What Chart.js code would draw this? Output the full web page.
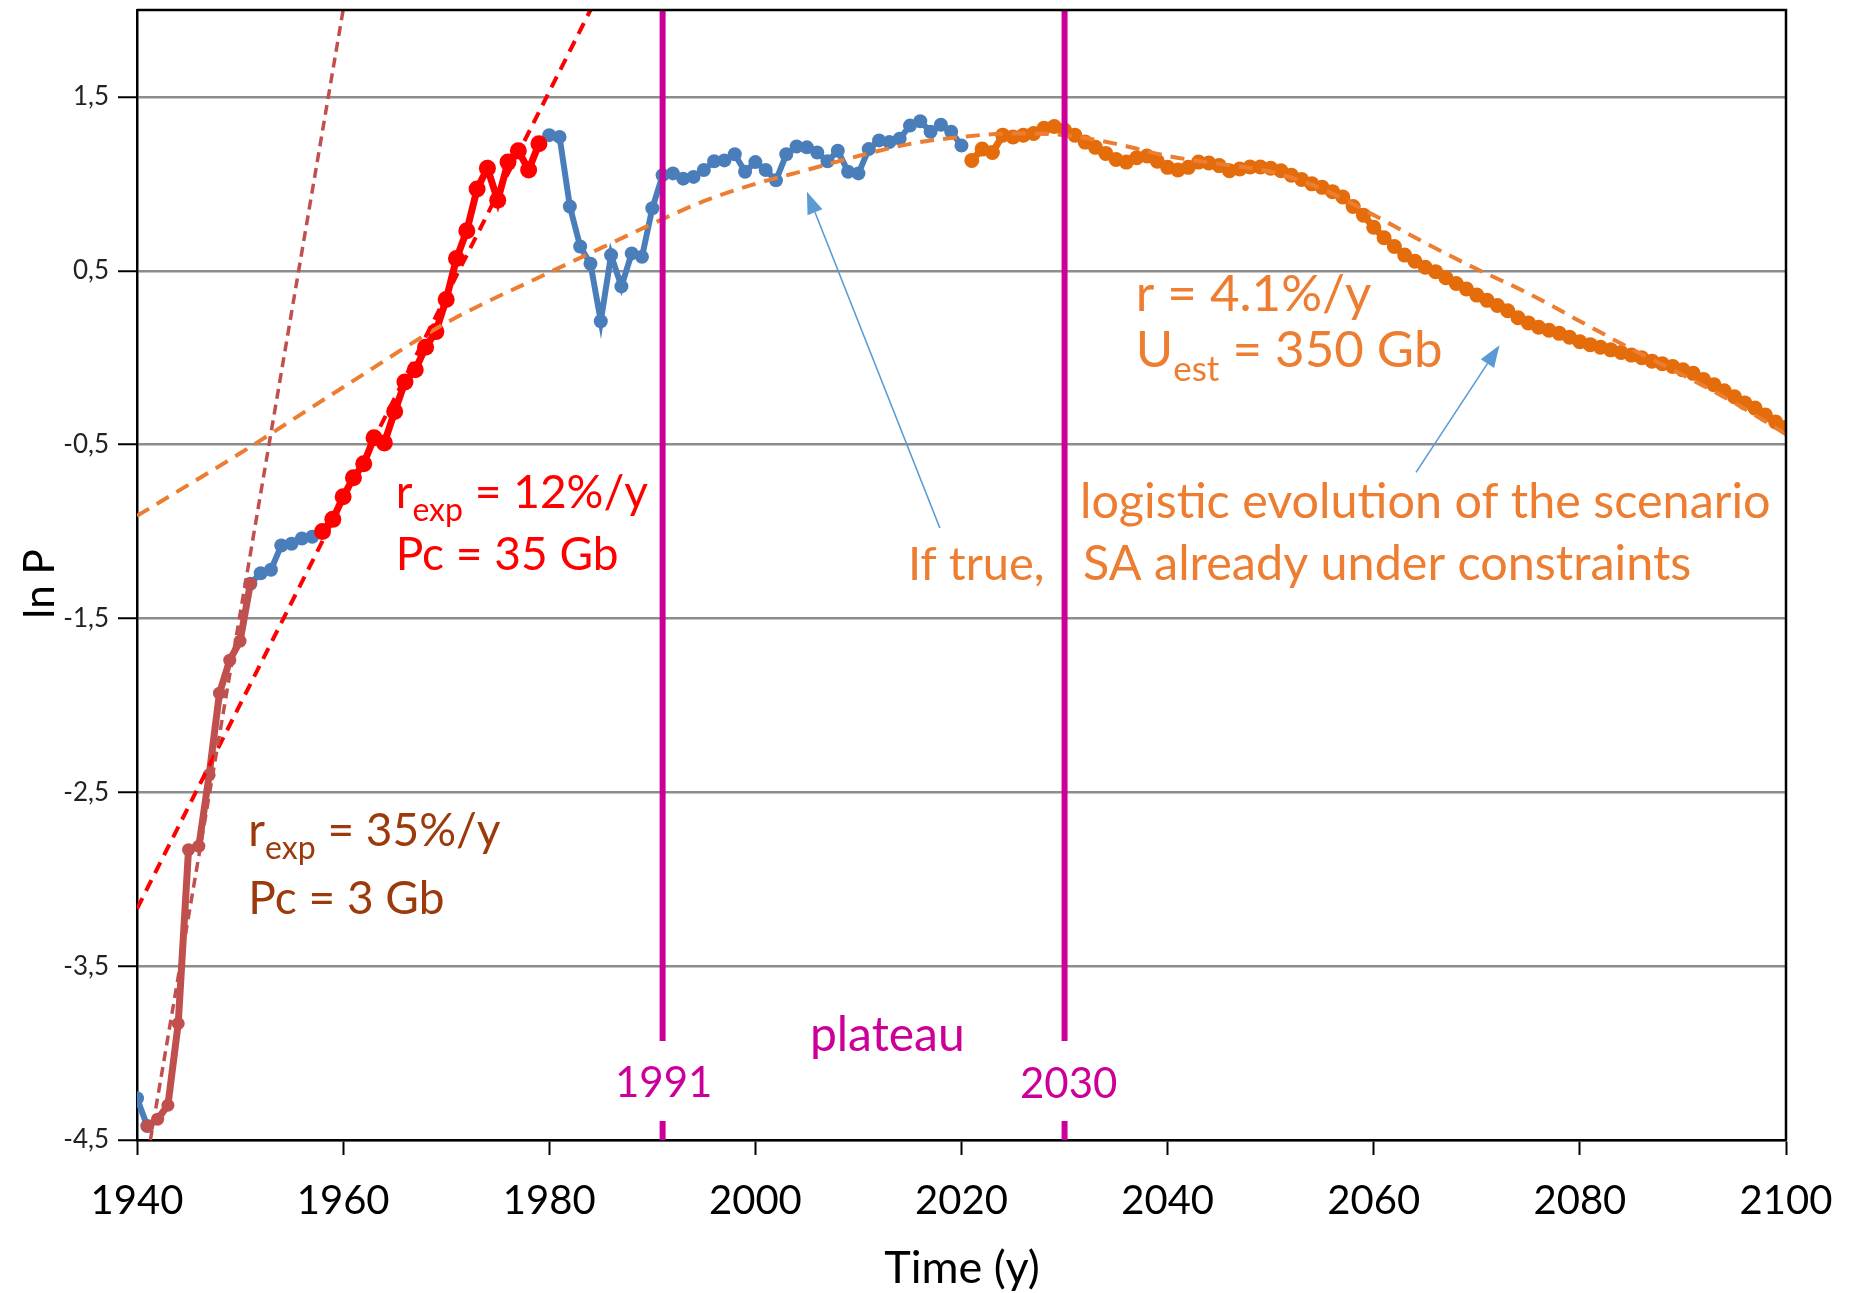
<!DOCTYPE html>
<html>
<head>
<meta charset="utf-8">
<script src="https://cdn.jsdelivr.net/npm/chart.js@4.4.0/dist/chart.umd.min.js"></script>
<style>
  html, body { margin: 0; padding: 0; background: #fff; }
</style>
</head>
<body>
<canvas id="chart" width="1850" height="1293"></canvas>
<script>
// tick labels
var yearTicks = [1940, 1960, 1980, 2000, 2020, 2040, 2060, 2080, 2100];
var lnPTicks = [-4.5, -3.5, -2.5, -1.5, -0.5, 0.5, 1.5];

// historical ln P (blue), one value a year from 1940; null where the fitted parts cover it
var histStart = 1940;
var histVals = [
  -4.26, -4.42,
  null, null, null, null, null, null, null, null, null,
  -1.30, -1.24, -1.22, -1.08, -1.07, -1.04, -1.03, -1.00,
  null, null, null, null, null, null, null, null, null, null,
  null, null, null, null, null, null, null, null, null, null,
  1.23, 1.28, 1.27, 0.87, 0.64, 0.54, 0.21, 0.59, 0.41, 0.60,
  0.58, 0.86, 1.05, 1.06, 1.03, 1.04, 1.08, 1.13, 1.135, 1.17,
  1.07, 1.125, 1.08, 1.02, 1.17, 1.215, 1.21, 1.18, 1.13, 1.19,
  1.07, 1.06, 1.20, 1.25, 1.24, 1.26, 1.335, 1.36, 1.30, 1.34,
  1.30, 1.22
];

// early phase 1941-1951 (35%/y)
var earlyStart = 1941;
var earlyVals = [-4.42, -4.38, -4.30, -3.83, -2.83, -2.81, -2.40, -1.93, -1.74, -1.63, -1.30];

// growth phase 1958-1979 (12%/y)
var boomStart = 1958;
var boomVals = [
  -1.00, -0.93, -0.80, -0.69, -0.61, -0.46, -0.49, -0.31, -0.14, -0.07,
  0.06, 0.15, 0.335, 0.57, 0.73, 0.97, 1.09, 0.905, 1.125, 1.19,
  1.08, 1.23
];

// scenario 2021-2100
var scenStart = 2021;
var scenVals = [
  1.135, 1.20, 1.18, 1.28, 1.27, 1.28, 1.29, 1.32, 1.33, 1.31,
  1.28, 1.24, 1.21, 1.175, 1.14, 1.125, 1.15, 1.16, 1.13, 1.095,
  1.08, 1.095, 1.125, 1.12, 1.105, 1.075, 1.085, 1.097, 1.097, 1.09,
  1.075, 1.05, 1.025, 1.00, 0.98, 0.955, 0.924, 0.87, 0.82, 0.75,
  0.69, 0.64, 0.59, 0.555, 0.52, 0.495, 0.46, 0.427, 0.395, 0.36,
  0.33, 0.30, 0.27, 0.23, 0.20, 0.175, 0.158, 0.14, 0.118, 0.092,
  0.075, 0.06, 0.045, 0.03, 0.015, 0.00, -0.02, -0.035, -0.05, -0.07,
  -0.09, -0.125, -0.155, -0.19, -0.225, -0.26, -0.29, -0.33, -0.37, -0.40
];

// logistic fit (orange dashed)
var fitYears = [1940, 1950, 1960, 1970, 1980, 1985, 1990,
  1995, 2000, 2005, 2010, 2015, 2020, 2025, 2030, 2035, 2040, 2045, 2050,
  2055, 2060, 2065, 2070, 2075, 2080, 2085, 2090, 2095, 2100];
var fitVals = [-0.91, -0.55, -0.17, 0.20, 0.49, 0.63, 0.77,
  0.90, 1.00, 1.08, 1.16, 1.23, 1.27, 1.29, 1.28, 1.23, 1.16, 1.115, 1.07,
  0.97, 0.82, 0.66, 0.51, 0.37, 0.21, 0.05, -0.10, -0.26, -0.44];

// exponential fits, [year, ln P] end points
var exp35Ends = [[1941.3, -4.5], [1960, 2.0]];
var exp12Ends = [[1940, -3.17], [1984, 2.0]];

// vertical markers
var markYears = [1991, 2030];

function series(start, vals) {
  return vals.map(function (v, i) { return { x: start + i, y: v }; });
}
function pairs(xs, ys) {
  return xs.map(function (x, i) { return { x: x, y: ys[i] }; });
}
function ends(p) {
  return p.map(function (e) { return { x: e[0], y: e[1] }; });
}
function markLine(year) {
  // gap left for the year label
  return [{ x: year, y: 2 }, { x: year, y: -3.93 }, { x: year, y: null },
          { x: year, y: -4.39 }, { x: year, y: -4.5 }];
}

var magenta = '#cc0099';

function rich(ctx, x, y, parts, color) {
  ctx.fillStyle = color;
  ctx.textAlign = 'left';
  ctx.textBaseline = 'alphabetic';
  parts.forEach(function (p) {
    ctx.font = p[1] + 'px Lato';
    ctx.fillText(p[0], x, y + (p[2] || 0));
    x += ctx.measureText(p[0]).width;
  });
}

function arrow(ctx, x1, y1, x2, y2) {
  var a = Math.atan2(y2 - y1, x2 - x1), len = 22, w = 8;
  var bx = x2 - len * Math.cos(a), by = y2 - len * Math.sin(a);
  ctx.strokeStyle = ctx.fillStyle = '#5b9bd5';
  ctx.lineWidth = 1.6;
  ctx.beginPath();
  ctx.moveTo(x1, y1);
  ctx.lineTo(bx, by);
  ctx.stroke();
  ctx.beginPath();
  ctx.moveTo(x2, y2);
  ctx.lineTo(bx + w * Math.sin(a), by - w * Math.cos(a));
  ctx.lineTo(bx - w * Math.sin(a), by + w * Math.cos(a));
  ctx.closePath();
  ctx.fill();
}

var notes = {
  id: 'notes',
  afterDatasetsDraw: function (chart) {
    var ctx = chart.ctx, a = chart.chartArea;
    var X = function (v) { return chart.scales.x.getPixelForValue(v); };
    var Y = function (v) { return chart.scales.y.getPixelForValue(v); };
    ctx.save();

    // top and right frame
    ctx.strokeStyle = '#000';
    ctx.lineWidth = 2.5;
    ctx.beginPath();
    ctx.moveTo(a.left, a.top);
    ctx.lineTo(a.right, a.top);
    ctx.lineTo(a.right, a.bottom);
    ctx.stroke();

    rich(ctx, X(1965.1), Y(-0.865), [['r', 46], ['exp', 32, 13], [' = 12%/y', 46]], '#ff0000');
    rich(ctx, X(1965.1), Y(-1.22), [['Pc = 35 Gb', 46]], '#ff0000');

    rich(ctx, X(1950.8), Y(-2.807), [['r', 46], ['exp', 32, 13], [' = 35%/y', 46]], '#9c3a0c');
    rich(ctx, X(1950.8), Y(-3.198), [['Pc = 3 Gb', 46]], '#9c3a0c');

    var orange = '#ed7d31';
    rich(ctx, X(2036.9), Y(0.267), [['r = 4.1%/y', 51]], orange);
    rich(ctx, X(2036.9), Y(-0.055), [['U', 51], ['est', 35, 14], [' = 350 Gb', 51]], orange);
    rich(ctx, X(2031.5), Y(-0.922), [['logistic evolution of the scenario', 48.5]], orange);
    rich(ctx, X(2014.8), Y(-1.279), [['If true,', 47]], orange);
    rich(ctx, X(2031.8), Y(-1.279), [['SA already under constraints', 48.5]], orange);

    arrow(ctx, X(2017.9), Y(-0.98), X(2005.0), Y(0.954));
    arrow(ctx, X(2064.1), Y(-0.66), X(2072.2), Y(0.072));

    ctx.fillStyle = magenta;
    ctx.textAlign = 'center';
    ctx.font = '48px Lato';
    ctx.fillText('plateau', X(2012.8), Y(-3.99));
    ctx.font = '42px Lato';
    ctx.fillText('1991', X(1991.1), Y(-4.25));
    ctx.fillText('2030', X(2030.4), Y(-4.26));

    // axis titles
    ctx.fillStyle = '#000';
    ctx.font = '45px Lato';
    ctx.fillText('Time (y)', 962, 1283);
    ctx.translate(54, 584);
    ctx.rotate(-Math.PI / 2);
    ctx.font = '42px Lato';
    ctx.fillText('ln P', 0, 0);
    ctx.restore();
  }
};

Chart.defaults.font.family = 'Lato';

new Chart(document.getElementById('chart'), {
  type: 'scatter',
  data: {
    datasets: [
      { data: markLine(markYears[0]), showLine: true, borderColor: magenta, borderWidth: 6,
        pointRadius: 0, spanGaps: false, order: 0 },
      { data: markLine(markYears[1]), showLine: true, borderColor: magenta, borderWidth: 6,
        pointRadius: 0, spanGaps: false, order: 0 },
      { data: ends(exp35Ends), showLine: true, borderColor: '#c0504d', borderWidth: 3.5,
        borderDash: [10, 6], pointRadius: 0, order: 1 },
      { data: ends(exp12Ends), showLine: true, borderColor: '#ff0000', borderWidth: 4,
        borderDash: [12, 8], pointRadius: 0, order: 1 },
      { data: pairs(fitYears, fitVals), showLine: true, borderColor: '#ed7d31', borderWidth: 4,
        borderDash: [14, 9], pointRadius: 0, cubicInterpolationMode: 'monotone', order: 1 },
      { data: series(scenStart, scenVals), showLine: true, borderColor: '#e46c0a', borderWidth: 7,
        pointRadius: 7.5, pointBackgroundColor: '#e46c0a', pointBorderWidth: 0, order: 2 },
      { data: series(boomStart, boomVals), showLine: true, borderColor: '#ff0000', borderWidth: 7,
        pointRadius: 8.5, pointBackgroundColor: '#ff0000', pointBorderWidth: 0, order: 3 },
      { data: series(earlyStart, earlyVals), showLine: true, borderColor: '#c0504d', borderWidth: 7,
        pointRadius: 6.5, pointBackgroundColor: '#c0504d', pointBorderWidth: 0, order: 4 },
      { data: series(histStart, histVals), showLine: true, borderColor: '#4a7ebb', borderWidth: 6,
        pointRadius: 7, pointBackgroundColor: '#4a7ebb', pointBorderWidth: 0, spanGaps: false, order: 5 }
    ]
  },
  options: {
    responsive: false,
    animation: false,
    events: [],
    layout: { padding: { top: 10, right: 64, left: 0, bottom: 0 } },
    plugins: { legend: { display: false }, tooltip: { enabled: false } },
    scales: {
      x: {
        type: 'linear', min: 1940, max: 2100,
        afterBuildTicks: function (s) { s.ticks = yearTicks.map(function (v) { return { value: v }; }); },
        afterFit: function (s) { s.height = 153; s.paddingLeft = 0; s.paddingRight = 0; },
        grid: { drawOnChartArea: false, drawTicks: true, tickLength: 15, tickColor: '#000', tickWidth: 2 },
        border: { display: true, color: '#000', width: 2.5 },
        ticks: {
          color: '#000', padding: 22, maxRotation: 0, font: { size: 40 },
          callback: function (v) { return String(v); }
        }
      },
      y: {
        type: 'linear', min: -4.5, max: 2,
        afterBuildTicks: function (s) { s.ticks = lnPTicks.map(function (v) { return { value: v }; }); },
        afterFit: function (s) { s.width = 137; s.paddingTop = 0; s.paddingBottom = 0; },
        grid: { color: '#8c8c8c', lineWidth: 2.5, drawTicks: true, tickLength: 19, tickColor: '#000', tickWidth: 2 },
        border: { display: true, color: '#000', width: 2.5 },
        ticks: {
          color: '#222', padding: 9, font: { size: 26 },
          callback: function (v) { return String(v).replace('.', ','); }
        }
      }
    }
  },
  plugins: [notes]
});
</script>
</body>
</html>
